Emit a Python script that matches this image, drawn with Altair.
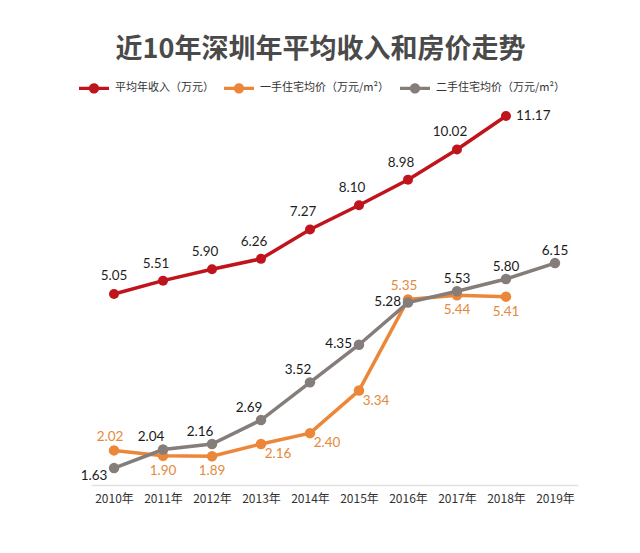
import altair as alt
import pandas as pd

# ---------------- data ----------------
years = ["2010年", "2011年", "2012年", "2013年", "2014年",
         "2015年", "2016年", "2017年", "2018年", "2019年"]
income = [5.05, 5.51, 5.90, 6.26, 7.27, 8.10, 8.98, 10.02, 11.17]
new_home = [2.02, 1.90, 1.89, 2.16, 2.40, 3.34, 5.35, 5.44, 5.41]
second_home = [1.63, 2.04, 2.16, 2.69, 3.52, 4.35, 5.28, 5.53, 5.80, 6.15]

series_names = ["平均年收入（万元）", "一手住宅均价（万元/m²）", "二手住宅均价（万元/m²）"]
colors = ["#C0141C", "#EC873A", "#857D79"]

# label placement keyword for each point
income_place = ["above", "aboveleft", "aboveleft", "aboveleft", "aboveleft",
                "aboveleft", "aboveleft", "aboveleft", "right"]
new_place = ["aboveo", "below", "below", "belowright", "belowright",
             "belowright", "aboveo", "below", "below"]
second_place = ["belowleft", "aboveleftg", "aboveleftg", "aboveleftg", "aboveleftg",
                "left", "left", "aboveg", "aboveg", "aboveg"]

# placement -> (dx, dy, align)
PLACE = {
    "above": (0, -18, "center"),
    "aboveleft": (-7, -17, "center"),
    "right": (10, 0, "left"),
    "aboveo": (-4, -13, "center"),
    "below": (0, 15, "center"),
    "belowright": (17, 10, "center"),
    "belowleft": (-20, 8, "center"),
    "aboveleftg": (-12, -12, "center"),
    "left": (-7, -1, "right"),
    "aboveg": (0, -12, "center"),
}
label_colors = ["#1f1f1f", "#E4893A", "#1a1a1a"]

rows = []
for name, vals, places in [(series_names[0], income, income_place),
                           (series_names[1], new_home, new_place),
                           (series_names[2], second_home, second_place)]:
    for yr, v, p in zip(years, vals, places):
        rows.append({"year": yr, "value": v, "series": name, "place": p,
                     "label": f"{v:.2f}"})
df = pd.DataFrame(rows)

# ---------------- chart ----------------
CJK = "Noto Sans CJK SC"
NUM = "Lato"

color_scale = alt.Scale(domain=series_names, range=colors)
X = alt.X("year:O", sort=years,
          scale=alt.Scale(type="point", padding=0.47),
          axis=alt.Axis(title=None, labelAngle=0, ticks=False, tickSize=0,
                        labelPadding=8, labelFont=CJK, labelFontSize=12,
                        labelColor="#333333", domainColor="#e2e2e2",
                        domainWidth=1.5, grid=False))

def Y(dom):
    return alt.Y("value:Q", scale=alt.Scale(domain=dom, nice=False, zero=False),
                 axis=None)

Y_INC = Y([-1.512, 11.375])
Y_HOUSE = Y([1.257, 9.526])

legend_path = ("M-1,-0.11L1,-0.11L1,0.11L-1,0.11Z "
               "M0.34,0A0.34,0.34,0,1,1,-0.34,0A0.34,0.34,0,1,1,0.34,0Z")
LEG = alt.Legend(title=None, orient="none", legendX=-12, legendY=-37,
                 direction="horizontal", symbolType=legend_path, symbolSize=900,
                 symbolStrokeWidth=0, symbolOpacity=1, labelFont=CJK,
                 labelFontSize=11, labelColor="#333333", labelOffset=6,
                 columnPadding=10)

base = alt.Chart(df).encode(x=X)

layers = []
# lines: one layer per series, coloured directly
for i, name in enumerate(series_names):
    yenc = Y_INC if i == 0 else Y_HOUSE
    layers.append(
        base.transform_filter(alt.datum.series == name)
        .mark_line(strokeWidth=3.5, color=colors[i])
        .encode(y=yenc)
    )

# points carry the legend
inc = base.transform_filter(alt.datum.series == series_names[0])
house = base.transform_filter(alt.datum.series != series_names[0])
FILL = alt.Color("series:N", scale=color_scale, legend=LEG)
layers.append(inc.mark_circle(size=100, opacity=1).encode(y=Y_INC, color=FILL))
layers.append(house.mark_circle(size=110, opacity=1).encode(y=Y_HOUSE, color=FILL))

# value labels
for i, (name, places) in enumerate([(series_names[0], income_place),
                                    (series_names[1], new_place),
                                    (series_names[2], second_place)]):
    yenc = Y_INC if i == 0 else Y_HOUSE
    for p in dict.fromkeys(places):
        dx, dy, align = PLACE[p]
        layers.append(
            base.transform_filter((alt.datum.series == name) & (alt.datum.place == p))
            .mark_text(dx=dx, dy=dy, align=align, baseline="middle", font=NUM,
                       fontSize=13.5, color=label_colors[i])
            .encode(y=yenc, text="label:N")
        )

chart = alt.layer(*layers).resolve_scale(y="independent").properties(
    width=487, height=375,
    padding={"left": 83, "top": 102, "right": 40, "bottom": 50},
    autosize=alt.AutoSizeParams(type="none"),
    background="white",
    title=alt.TitleParams(text="近10年深圳年平均收入和房价走势", font=CJK,
                          fontSize=27, fontWeight="bold", color="#4a4a4a",
                          anchor="middle", frame="group", dx=-14, offset=-4,
                          baseline="middle"),
).configure_view(stroke=None)

chart.save("out.html", embed_options={"renderer": "svg", "actions": False})
